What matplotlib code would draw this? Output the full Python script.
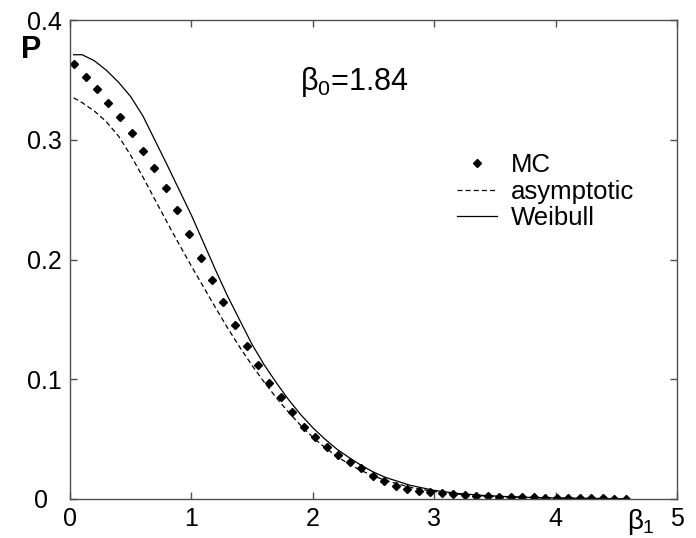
import matplotlib
matplotlib.use("Agg")
import matplotlib.pyplot as plt

plt.rcParams['font.family'] = ['Liberation Sans', 'DejaVu Sans']
plt.rcParams['mathtext.fontset'] = 'custom'
plt.rcParams['mathtext.rm'] = 'Liberation Sans'
plt.rcParams['mathtext.it'] = 'Liberation Sans'

# ---- data ----
beta_mc = [0.033, 0.128, 0.222, 0.317, 0.412, 0.507, 0.601, 0.696, 0.791, 0.885,
           0.980, 1.075, 1.169, 1.264, 1.359, 1.454, 1.548, 1.643, 1.738, 1.832,
           1.927, 2.022, 2.116, 2.211, 2.306, 2.401, 2.495, 2.590, 2.685, 2.779,
           2.874, 2.969, 3.063, 3.158, 3.253, 3.348, 3.442, 3.537, 3.632, 3.726,
           3.821, 3.916, 4.010, 4.105, 4.200, 4.294, 4.389, 4.484, 4.579]
p_mc = [0.363, 0.3525, 0.342, 0.331, 0.319, 0.3056, 0.291, 0.276, 0.26, 0.2414,
        0.2214, 0.2014, 0.183, 0.1644, 0.145, 0.128, 0.112, 0.097, 0.085, 0.0723,
        0.0603, 0.052, 0.0436, 0.0367, 0.031, 0.0256, 0.0194, 0.015, 0.011, 0.0083,
        0.0067, 0.006, 0.0048, 0.0042, 0.0036, 0.0028, 0.0025, 0.002, 0.0018, 0.0015,
        0.0013, 0.0012, 0.001, 0.0009, 0.0008, 0.0007, 0.0005, 0.0004, 0.0002]

beta_line = [0.03, 0.1, 0.2, 0.3, 0.4, 0.5, 0.6, 0.7, 0.8, 0.9,
             1.0, 1.1, 1.2, 1.3, 1.4, 1.5, 1.6, 1.7, 1.8, 1.9,
             2.0, 2.1, 2.2, 2.3, 2.4, 2.5, 2.6, 2.8, 3.0, 3.2,
             3.4, 3.6, 3.8, 4.0, 4.2, 4.4, 4.58]
p_asym = [0.335, 0.331, 0.324, 0.315, 0.303, 0.287, 0.269, 0.250, 0.231, 0.2125,
          0.1945, 0.177, 0.1595, 0.1425, 0.1265, 0.1115, 0.0975, 0.0845, 0.0725, 0.0615,
          0.0515, 0.043, 0.0355, 0.029, 0.0237, 0.0192, 0.0155, 0.0098, 0.0062, 0.0040,
          0.0026, 0.0017, 0.0011, 0.0007, 0.0005, 0.0003, 0.0002]
p_weib = [0.371, 0.371, 0.366, 0.358, 0.348, 0.336, 0.320, 0.2995, 0.279, 0.258,
          0.237, 0.214, 0.191, 0.169, 0.149, 0.129, 0.112, 0.097, 0.083, 0.0705,
          0.0595, 0.050, 0.0415, 0.0345, 0.028, 0.0225, 0.018, 0.0115, 0.0072, 0.0046,
          0.003, 0.002, 0.0013, 0.0009, 0.0006, 0.0004, 0.0003]

x_ticks = [0, 1, 2, 3, 4, 5]
x_ticklabels = ['0', '1', '2', '3', '4', '5']
y_ticks = [0, 0.1, 0.2, 0.3, 0.4]
y_ticklabels = ['0  ', '0.1', '0.2', '0.3', '0.4']

# ---- figure ----
fig = plt.figure(figsize=(6.96, 5.38), dpi=100)
ax = fig.add_axes([70/696, 1 - 499/538, (677 - 70)/696, (499 - 20)/538])

ax.plot(beta_mc, p_mc, linestyle='none', marker='D', markersize=4,
        color='black', label='MC')
ax.plot(beta_line, p_asym, linestyle=(0, (4, 2.5)), color='black', lw=0.9,
        label='asymptotic')
ax.plot(beta_line, p_weib, linestyle='-', color='black', lw=0.9,
        label='Weibull')

ax.set_xlim(0, 5)
ax.set_ylim(0, 0.4)
ax.set_xticks(x_ticks)
ax.set_xticklabels(x_ticklabels)
ax.set_yticks(y_ticks)
ax.set_yticklabels(y_ticklabels)

edge = '#505050'
for s in ax.spines.values():
    s.set_color(edge)
    s.set_linewidth(1.0)
ax.tick_params(direction='in', length=5, width=1, color=edge,
               top=True, right=True, labelsize=18, labelcolor='black')
ax.tick_params(axis='x', pad=6)
ax.tick_params(axis='y', pad=6)

# axis labels
fig.text(21/696, 1 - 50/538, 'P', fontsize=22, fontweight='bold',
         ha='left', va='center')
fig.text(627/696, 1 - 522/538, r'$\beta_1$', fontsize=20,
         ha='left', va='center')

ax.text(300/696, 1 - 82/538, r'$\beta_0$=1.84', fontsize=22,
        transform=fig.transFigure, ha='left', va='center')

leg = ax.legend(loc='upper left', bbox_to_anchor=((457 - 70)/607, 1 - (153 - 20)/479),
                frameon=False, fontsize=18.5, handlelength=1.55,
                handletextpad=0.55, labelspacing=0.1, borderaxespad=0,
                borderpad=0)

fig.savefig('out.png', dpi=100)
